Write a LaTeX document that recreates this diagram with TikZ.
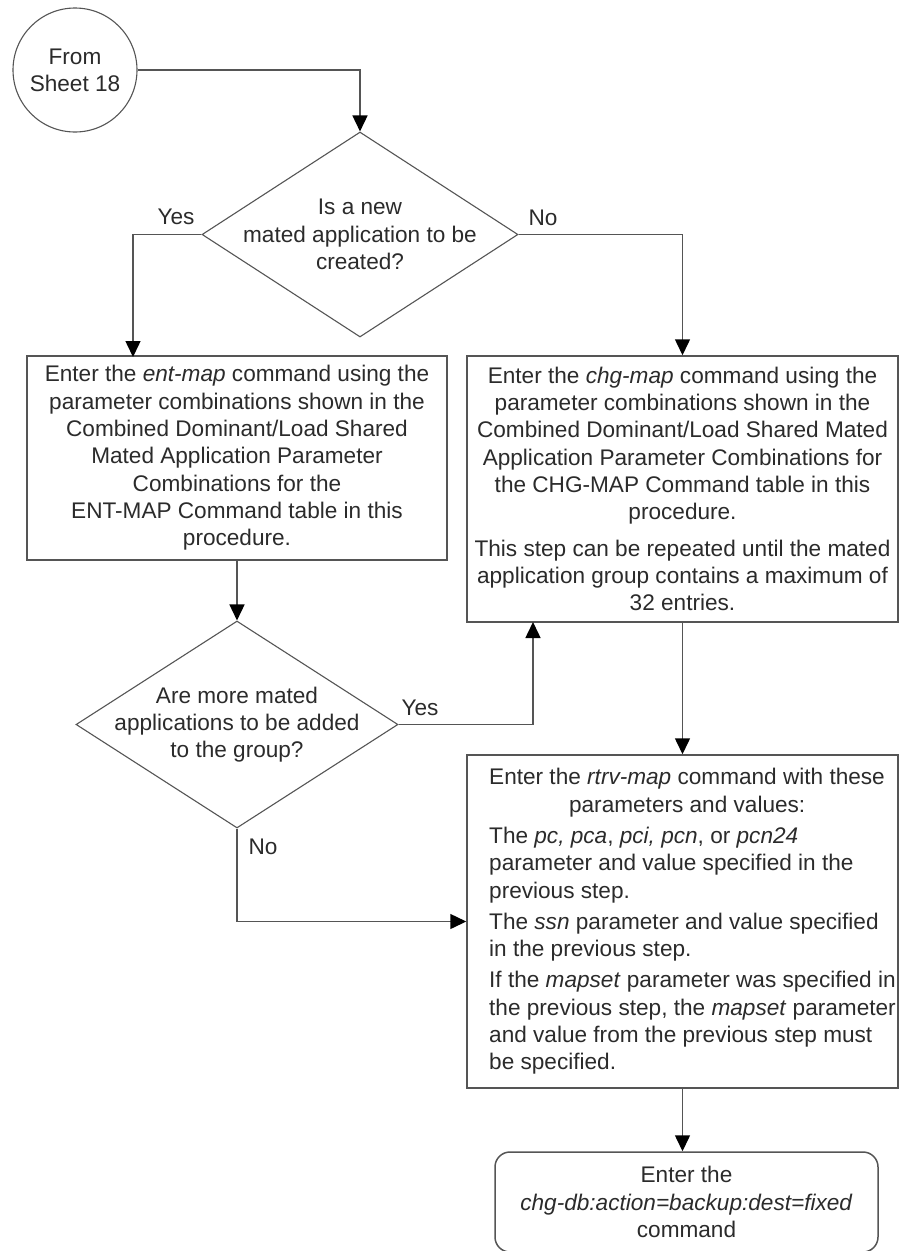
\documentclass[tikz,border=0pt]{standalone}
\usepackage{fontspec}
\setmainfont{Liberation Sans}
\usepackage{tikz}
\usetikzlibrary{shapes.geometric,arrows.meta}
\definecolor{linegray}{HTML}{555555}
\definecolor{textgray}{HTML}{2B2B2B}
\tikzset{
    flow text/.style={
        font=\fontsize{22.6}{27.3}\selectfont,
        text=textgray
    },
    process box/.style={
        draw=linegray,line width=1.5pt,
        fill=white,inner sep=0pt,
        align=center,flow text
    },
    decision/.style={
        draw=linegray,line width=1.1pt,
        diamond,inner sep=0pt
    },
    sheet circle/.style={
        draw=linegray,line width=1.1pt,
        circle,minimum size=124pt,
        align=center,flow text
    },
    terminal box/.style={
        process box,rounded corners=15pt
    },
    branch label/.style={flow text,inner sep=0pt},
    flowline/.style={draw=linegray,line width=1.5pt},
    >={Triangle[length=16pt,width=15pt,color=black]}
}

\begin{document}
\begin{tikzpicture}[x=1pt,y=-1pt]
\path[use as bounding box,fill=white] (0,0) rectangle (899,1251);
% entry and first question
\node[sheet circle] (from) at (75,70) {From\\Sheet 18};
\node[decision,minimum width=316pt,minimum height=205pt] (q1) at (360,234.5) {};
\node[flow text,align=center] (q1text) at (q1) {Is a new\\mated application to be\\created?};
% the two commands
\node[process box,minimum width=420pt,minimum height=204pt] (ent) at (237,458)
    {Enter the \textit{ent-map} command using the\\parameter combinations shown in the\\Combined Dominant/Load Shared\\Mated Application Parameter\\Combinations for the\\ENT-MAP Command table in this\\procedure.};
\node[process box,minimum width=431pt,minimum height=266pt] (chg) at (682.5,489)
    {Enter the \textit{chg-map} command using the\\parameter combinations shown in the\\Combined Dominant/Load Shared Mated\\Application Parameter Combinations for\\the CHG-MAP Command table in this\\procedure.\\[9pt]This step can be repeated until the mated\\application group contains a maximum of\\32 entries.};
% second question
\node[decision,minimum width=322pt,minimum height=207pt] (q2) at (237,724.5) {};
\node[flow text,align=center] (q2text) at (q2) {Are more mated\\applications to be added\\to the group?};
% verification and backup
\node[process box,minimum width=431pt,minimum height=333pt] (rtrv) at (682.5,921.5) {};
\node[flow text,align=left,anchor=west,inner sep=0pt] (rtrvtext) at (489,921.5)
    {Enter the \textit{rtrv-map} command with these\\
     \makebox[396pt]{parameters and values:}\\[4pt]
     The \textit{pc, pca}, \textit{pci, pcn}, or \textit{pcn24}\\
     parameter and value specified in the\\
     previous step.\\[4pt]
     The \textit{ssn} parameter and value specified\\
     in the previous step.\\[4pt]
     If the \textit{mapset} parameter was specified in\\
     the previous step, the \textit{mapset} parameter\\
     and value from the previous step must\\
     be specified.};
\node[terminal box,minimum width=383pt,minimum height=100pt] (backup) at (686.5,1202)
    {Enter the\\\textit{chg-db:action=backup:dest=fixed}\\command};
\coordinate (yesin) at (133,357);
\coordinate (yesup) at (533,622);
% connectors
\draw[flowline,->] (from.east) -| (q1.north);
\draw[flowline,->] (q1.west) -| (yesin);
\draw[flowline,->] (q1.east) -| (chg.north);
\draw[flowline,->] (ent.south) -- (q2.north);
\draw[flowline,->] (q2.east) -| (yesup);
\draw[flowline,->] (q2.south) |- (rtrv.west);
\draw[flowline,->] (chg.south) -- (rtrv.north);
\draw[flowline,->] (rtrv.south) -- (rtrv.south |- backup.north);
\node[branch label] (q1yes) at (176,217) {Yes};
\node[branch label] (q1no) at (543,218) {No};
\node[branch label] (q2yes) at (420,708) {Yes};
\node[branch label] (q2no) at (263,847) {No};
\end{tikzpicture}
\end{document}
